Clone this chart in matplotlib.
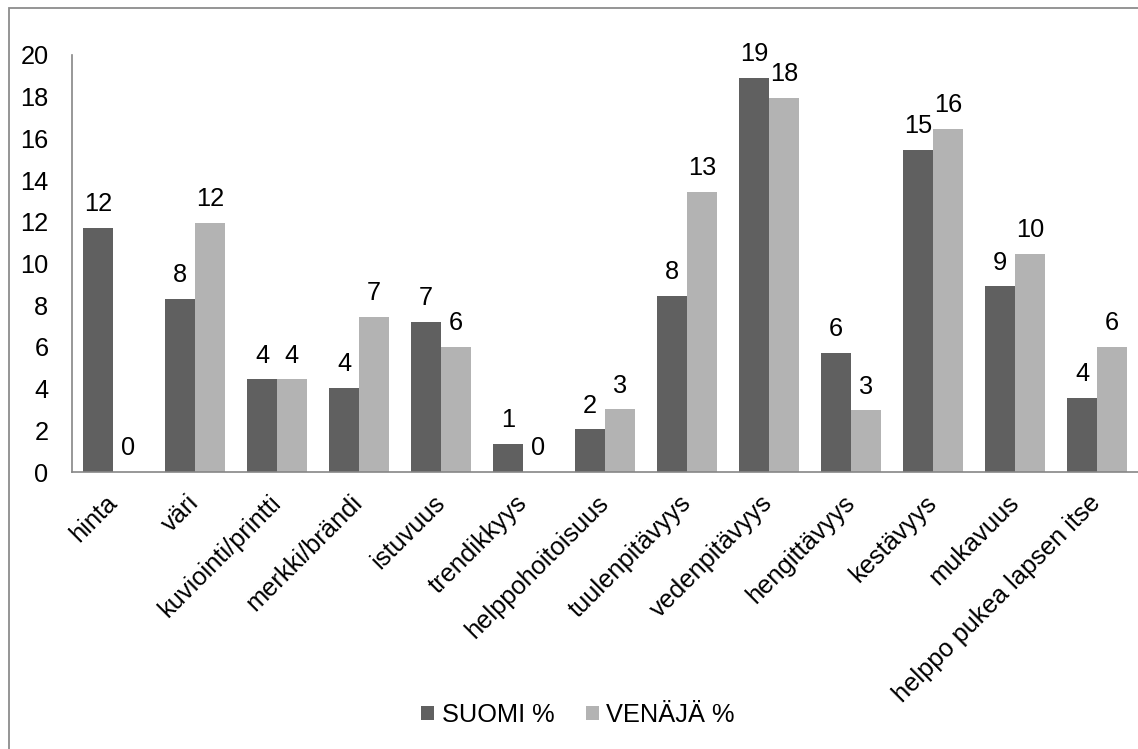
import numpy as np
import matplotlib.pyplot as plt
from matplotlib.patches import Rectangle

plt.rcParams["font.family"] = ["Liberation Sans", "DejaVu Sans"]
plt.rcParams["font.size"] = 18.3

# Ominaisuuksien tärkeys, % vastaajista
ominaisuudet = [
    "hinta",
    "väri",
    "kuviointi/printti",
    "merkki/brändi",
    "istuvuus",
    "trendikkyys",
    "helppohoitoisuus",
    "tuulenpitävyys",
    "vedenpitävyys",
    "hengittävyys",
    "kestävyys",
    "mukavuus",
    "helppo pukea lapsen itse",
]
suomi = [11.7, 8.3, 4.45, 4.05, 7.2, 1.35, 2.05, 8.45, 18.9, 5.7, 15.45, 8.9, 3.55]
venaja = [0, 11.95, 4.45, 7.45, 6.0, 0, 3.0, 13.45, 17.95, 2.95, 16.45, 10.45, 6.0]

sarjat = ["SUOMI %", "VENÄJÄ %"]
varit = ["#606060", "#b3b3b3"]

W, H = 1138, 749
fig = plt.figure(figsize=(W / 100, H / 100), dpi=100)
ax = fig.add_axes([72 / W, 1 - 472 / H, (W - 72) / W, (472 - 55) / H])

x = np.arange(len(ominaisuudet))
w = 0.362

for i, (arvot, nimi, c) in enumerate(zip([suomi, venaja], sarjat, varit)):
    pos = x + (i - 0.5) * w
    ax.bar(pos, arvot, width=w, color=c, label=nimi, zorder=2)
    for px, v in zip(pos, arvot):
        ax.annotate(f"{v:.0f}", (px, v), xytext=(0, 12),
                    textcoords="offset points", ha="center", va="baseline")

ax.set_xlim(-0.5, len(ominaisuudet) - 0.5)
ax.set_ylim(0, 20)
ax.set_yticks(range(0, 21, 2))
ax.set_xticks(x, labels=ominaisuudet, rotation=45, ha="right",
              rotation_mode="anchor", va="center")
ax.tick_params(axis="y", length=0, pad=17)
ax.tick_params(axis="x", length=0, pad=19.5)

for s in ["top", "right"]:
    ax.spines[s].set_visible(False)
for s in ["left", "bottom"]:
    ax.spines[s].set_color("#868686")
    ax.spines[s].set_linewidth(1.2)

fig.legend(loc="center", bbox_to_anchor=(578 / W, 1 - 715 / H), ncol=2,
           frameon=False, handlelength=0.5, handleheight=0.5,
           handletextpad=0.3, columnspacing=1.25)

# kaavion reunus
fig.add_artist(Rectangle((8.5 / W, -0.1), 2, 1.1 - 8.5 / H,
                         transform=fig.transFigure, fill=False,
                         edgecolor="#8c8c8c", lw=1.3))

fig.savefig("out.png", dpi=100)
